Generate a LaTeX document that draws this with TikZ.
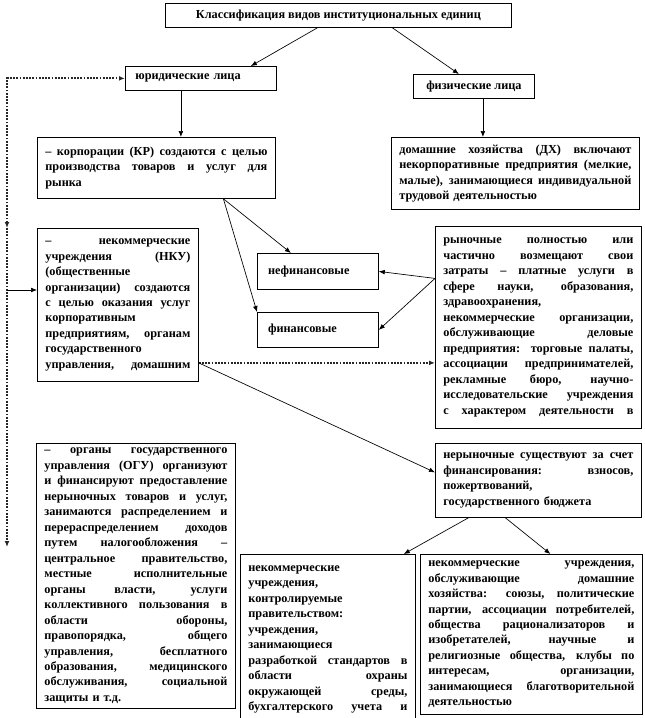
\documentclass[tikz,border=0pt]{standalone}
\usepackage{fontspec}
\setmainfont{Liberation Serif}
\usetikzlibrary{arrows.meta,positioning,calc}
\newcommand{\jl}[1]{\makebox[\hsize][s]{\spaceskip=0pt \xspaceskip=0pt #1}}

\begin{document}
\begin{tikzpicture}[
  x=0.75pt, y=-0.75pt,
  ubox/.style={draw=black, line width=0.6pt, fill=white, anchor=north west, align=left, inner xsep=6pt, inner ysep=2pt, font=\fontsize{9.2}{11.6}\selectfont\bfseries},
  hbox/.style={ubox, align=center},
  arr/.style={-{Latex[length=4.5pt,width=3.6pt]}, line width=0.5pt},
  aux/.style={-{Latex[length=4.5pt,width=3.6pt]}, line width=1.4pt, draw=black!85, densely dotted}
]
\useasboundingbox (0,0) rectangle (645,718);
\clip (0,0) rectangle (645,718);

\node[hbox, minimum width=259.5pt, minimum height=18pt] (title) at (165,3) {Классификация видов институциональных единиц};
\node[ubox, text width=101.25pt, minimum height=18pt] (yur) at (125,66) {\hspace{1.5pt}юридические лица};
\node[hbox, minimum width=90.75pt, minimum height=18pt] (fiz) at (413,74) {физические лица};

\node[ubox, text width=166.5pt, minimum height=45.75pt] (kr) at (37,137) {\jl{– корпорации (КР) создаются с целью}\\ \jl{производства товаров и услуг для}\\ рынка};
\node[ubox, text width=174pt, minimum height=54pt] (dx) at (391,137) {\jl{домашние хозяйства (ДХ) включают}\\ \jl{некорпоративные предприятия (мелкие,}\\ \jl{малые), занимающиеся индивидуальной}\\ трудовой деятельностью};

\node[ubox, text width=108.75pt, minimum height=114.75pt] (nku) at (37,228) {\jl{– некоммерческие}\\ \jl{учреждения (НКУ)}\\ (общественные\\ \jl{организации) создаются}\\ \jl{с целью оказания услуг}\\ корпоративным\\ \jl{предприятиям, органам}\\ государственного\\ \jl{управления, домашним}};
\node[ubox, text width=78.75pt, minimum height=27pt] (nefin) at (257,253) {\hspace{2pt}нефинансовые};
\node[ubox, text width=78.75pt, minimum height=26.25pt] (fin) at (257,312) {\hspace{2pt}финансовые};
\node[ubox, text width=142.5pt, minimum height=151.5pt] (market) at (435,226) {\jl{рыночные полностью или}\\ \jl{частично возмещают свои}\\ \jl{затраты – платные услуги в}\\ \jl{сфере науки, образования,}\\ здравоохранения,\\ \jl{некоммерческие организации,}\\ \jl{обслуживающие деловые}\\ \jl{предприятия: торговые палаты,}\\ \jl{ассоциации предпринимателей,}\\ \jl{рекламные бюро, научно-}\\ \jl{исследовательские учреждения}\\ \jl{с характером деятельности в}};

\node[ubox, text width=137.25pt, minimum height=198.75pt] (ogu) at (36,443) {\jl{– органы государственного}\\ \jl{управления (ОГУ) организуют}\\ \jl{и финансируют предоставление}\\ \jl{нерыночных товаров и услуг,}\\ \jl{занимаются распределением и}\\ \jl{перераспределением доходов}\\ \jl{путем налогообложения –}\\ \jl{центральное правительство,}\\ \jl{местные исполнительные}\\ \jl{органы власти, услуги}\\ \jl{коллективного пользования в}\\ \jl{области обороны,}\\ \jl{правопорядка, общего}\\ \jl{управления, бесплатного}\\ \jl{образования, медицинского}\\ \jl{обслуживания, социальной}\\ защиты и т.д.};
\node[ubox, text width=142.5pt, minimum height=55.5pt] (nonmarket) at (435,443) {\jl{нерыночные существуют за счет}\\ \jl{финансирования: взносов,}\\ пожертвований,\\ государственного бюджета};
\node[ubox, text width=119.25pt, minimum height=127.5pt] (govnku) at (240,554) {некоммерческие\\ учреждения,\\ контролируемые\\ правительством:\\ учреждения,\\ занимающиеся\\ \jl{разработкой стандартов в}\\ \jl{области охраны}\\ \jl{окружающей среды,}\\ \jl{бухгалтерского учета и}};
\node[ubox, text width=154.5pt, minimum height=120pt] (hhnku) at (420,554) {\jl{некоммерческие учреждения,}\\ \jl{обслуживающие домашние}\\ \jl{хозяйства: союзы, политические}\\ \jl{партии, ассоциации потребителей,}\\ \jl{общества рационализаторов и}\\ \jl{изобретателей, научные и}\\ \jl{религиозные общества, клубы по}\\ \jl{интересам, организации,}\\ \jl{занимающиеся благотворительной}\\ деятельностью};

\coordinate (lf1) at (7,228);
\coordinate (lf2) at (7,547);
\coordinate (lf3) at (7,290);

\draw[arr] ($(title.south)+(-21,0)$) -- ($(yur.north)+(50,0)$);
\draw[arr] ($(title.south)+(54,0)$) -- ($(fiz.north)+(-15,0)$);
\draw[arr] ($(yur.south)+(-20,0)$) coordinate (y1) -- (y1 |- kr.north);
\draw[arr] ($(fiz.south)+(9,0)$) coordinate (f1) -- (f1 |- dx.north);
\draw[arr] ($(kr.south)+(67,0)$) coordinate (k1) -- ($(nefin.north)+(-27,0)$);
\draw[arr] (k1) -- (fin.north west);
\draw[arr] ($(market.west)+(0,-49)$) coordinate (m1) -- (nefin.east);
\draw[arr] (m1) -- (fin.east);
\draw[aux] ($(nku.east)+(0,58)$) coordinate (n1) -- (n1 -| market.west);
\draw[arr] (n1) -- ($(nonmarket.west)+(0,-8)$);
\draw[arr] ($(nonmarket.south)+(-70,0)$) -- ($(govnku.north east)+(-12,0)$);
\draw[arr] ($(nonmarket.south)+(-33,0)$) -- ($(hhnku.north)+(19,0)$);
\draw[aux, {Latex[length=4.5pt,width=3.6pt]}-{Latex[length=4.5pt,width=3.6pt]}] (lf1) |- (yur.west);
\draw[aux] (lf1) -- (lf2);
\draw[arr] (lf3) -- (lf3 -| nku.west);
\end{tikzpicture}
\end{document}
